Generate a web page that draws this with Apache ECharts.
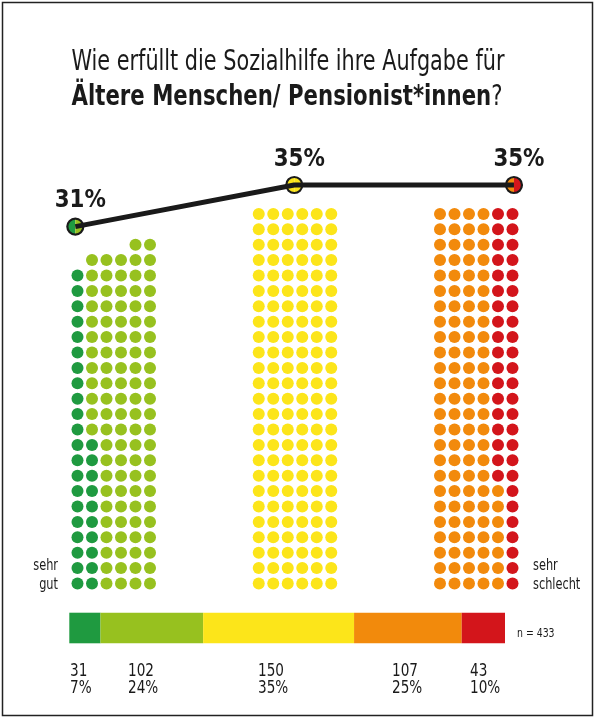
<!DOCTYPE html>
<html>
<head>
<meta charset="utf-8">
<script src="https://cdn.jsdelivr.net/npm/echarts@6/dist/echarts.min.js"></script>
<style>
  html, body { margin: 0; padding: 0; background: #fff; }
  #main { width: 595px; height: 718px; }
</style>
</head>
<body>
<div id="main"></div>
<script>
// Antworten (von sehr gut bis sehr schlecht)
var categories = ['sehr gut', 'gut', 'mittel', 'schlecht', 'sehr schlecht'];
var counts = [31, 102, 150, 107, 43];
var shares = ['7%', '24%', '35%', '25%', '10%'];
var colors = ['#1f9a40', '#97c11f', '#fce51a', '#f28a0c', '#d3151b'];
var total = 433;

// drei Gruppen: gut / mittel / schlecht
var groupMembers = [[0, 1], [2], [3, 4]];
var groupPct = [31, 35, 35];
// Punkte pro Spalte in jeder Gruppe
var columnHeights = [
    [21, 22, 22, 22, 23, 23],
    [25, 25, 25, 25, 25, 25],
    [25, 25, 25, 25, 25, 25]
];

var FONT = '"DejaVu Sans Condensed", sans-serif';
var SX = 0.84; // Schrift etwas schmaler machen
var GROUP_GAP = 12.5;   // Abstand der Gruppen in Spalten-Einheiten
var lineX = [-0.15, GROUP_GAP + 2.45, 2 * GROUP_GAP + 5.1];
var bottomLabelX = [70, 128, 258, 392, 470];

var ctx = document.createElement('canvas').getContext('2d');
function measure(text, size, weight) {
    ctx.font = (weight || 'normal') + ' ' + size + 'px ' + FONT;
    return ctx.measureText(text).width;
}

// Punkte aufbauen: spaltenweise von unten nach oben füllen
var dotSeries = categories.map(function () { return []; });
groupMembers.forEach(function (members, g) {
    var k = 0;
    var left = counts[members[k]];
    columnHeights[g].forEach(function (h, col) {
        for (var row = 0; row < h; row++) {
            while (left === 0) { k++; left = counts[members[k]]; }
            dotSeries[members[k]].push([g * GROUP_GAP + col, row]);
            left--;
        }
    });
});

var series = [];
categories.forEach(function (name, i) {
    series.push({
        type: 'scatter', name: name, xAxisIndex: 0, yAxisIndex: 0,
        symbol: 'circle', symbolSize: 12, silent: true,
        itemStyle: { color: colors[i], opacity: 1 },
        data: dotSeries[i]
    });
});

// Linie oben
series.push({
    type: 'line', xAxisIndex: 1, yAxisIndex: 1, silent: true,
    showSymbol: false, symbol: 'none',
    lineStyle: { color: '#1a1a1a', width: 5 },
    data: groupPct.map(function (v, i) { return [lineX[i], v]; })
});
series.push({
    type: 'custom', xAxisIndex: 1, yAxisIndex: 1, silent: true, clip: false,
    data: groupPct.map(function (v, i) { return [lineX[i], v]; }),
    renderItem: function (params, api) {
        var p = api.coord([api.value(0), api.value(1)]);
        var m = groupMembers[params.dataIndex];
        var cl = colors[m[0]], cr = colors[m[m.length - 1]];
        var r = 8;
        return {
            type: 'group',
            children: [
                { type: 'sector', shape: { cx: p[0], cy: p[1], r: r, startAngle: Math.PI / 2, endAngle: Math.PI * 1.5 }, style: { fill: cl } },
                { type: 'sector', shape: { cx: p[0], cy: p[1], r: r, startAngle: -Math.PI / 2, endAngle: Math.PI / 2 }, style: { fill: cr } },
                { type: 'circle', shape: { cx: p[0], cy: p[1], r: r }, style: { fill: 'none', stroke: '#1a1a1a', lineWidth: 2.2 } },
                { type: 'text', x: p[0] + 5, y: p[1] - 26, scaleX: 0.95,
                    style: { text: api.value(1) + '%', x: 0, y: 0, align: 'center', verticalAlign: 'middle',
                    fontFamily: FONT, fontWeight: 'bold', fontSize: 25, fill: '#1a1a1a' } }
            ]
        };
    }
});

// Balken unten
categories.forEach(function (name, i) {
    series.push({
        type: 'bar', stack: 'n', xAxisIndex: 2, yAxisIndex: 2, silent: true,
        barWidth: '100%', itemStyle: { color: colors[i] },
        data: [counts[i]]
    });
});

function txt(x, y, text, size, align, sx, extra) {
    var s = { text: text, x: 0, y: 0, align: align || 'left', verticalAlign: 'middle',
        fontFamily: FONT, fontSize: size, fill: '#1a1a1a' };
    for (var k in extra || {}) s[k] = extra[k];
    return { type: 'text', x: x, y: y, scaleX: sx || SX, style: s };
}

var title1 = 'Wie erfüllt die Sozialhilfe ihre Aufgabe für';
var title2b = 'Ältere Menschen/ Pensionist*innen';
var sx1 = 433 / measure(title1, 28);
var sx2 = 431 / (measure(title2b, 28, 'bold') + measure('?', 28));

var graphics = [
    { type: 'rect', shape: { x: 2.5, y: 2.5, width: 590, height: 713 }, style: { fill: 'none', stroke: '#222', lineWidth: 1.5 } },
    txt(71.5, 62.5, title1, 28, 'left', sx1),
    txt(71.5, 97.5, '{b|' + title2b + '}{r|?}', 28, 'left', sx2, {
        rich: {
            b: { fontFamily: FONT, fontSize: 28, fontWeight: 'bold', fill: '#1a1a1a' },
            r: { fontFamily: FONT, fontSize: 28, fill: '#1a1a1a' }
        } }),
    txt(58, 566, 'sehr', 15, 'right'),
    txt(58, 585, 'gut', 15, 'right'),
    txt(533, 566, 'sehr', 15, 'left'),
    txt(533, 585, 'schlecht', 15, 'left'),
    txt(517, 634, 'n = ' + total, 13, 'left', 0.8)
];
counts.forEach(function (c, i) {
    graphics.push(txt(bottomLabelX[i], 671.5, String(c), 18, 'left'));
    graphics.push(txt(bottomLabelX[i], 688.5, shares[i], 18, 'left'));
});

var myChart = echarts.init(document.getElementById('main'));
var option = {
    backgroundColor: '#fff',
    animation: false,
    grid: [
        { left: 63, width: 464, top: 183.1, height: 415.8 },
        { left: 63, width: 464, top: 174.6, height: 62.4 },
        { left: 69.3, width: 435.7, top: 612.7, height: 30.6 }
    ],
    xAxis: [
        { type: 'value', gridIndex: 0, min: -1, max: 31, show: false },
        { type: 'value', gridIndex: 1, min: -1, max: 31, show: false },
        { type: 'value', gridIndex: 2, min: 0, max: total, show: false }
    ],
    yAxis: [
        { type: 'value', gridIndex: 0, min: -1, max: 26, show: false },
        { type: 'value', gridIndex: 1, min: 30, max: 36, show: false },
        { type: 'category', gridIndex: 2, data: ['n'], show: false }
    ],
    graphic: graphics,
    series: series
};
myChart.setOption(option);
</script>
</body>
</html>
